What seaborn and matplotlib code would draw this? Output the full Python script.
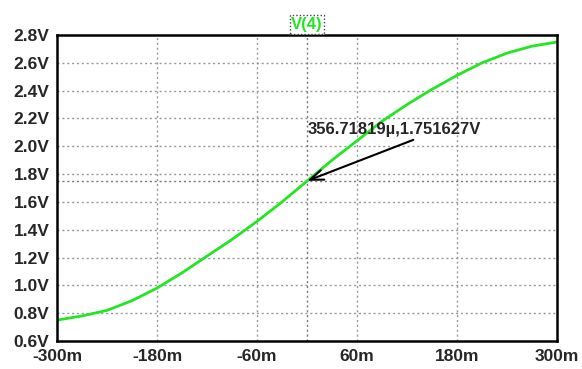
import matplotlib
matplotlib.use("Agg")
import matplotlib.pyplot as plt
import seaborn as sns
import pandas as pd

# sweep values (in milli units) and node voltage V(4)
sweep_m = [-300, -270, -240, -210, -180, -150, -120, -90, -60, -30, 0,
           30, 60, 90, 120, 150, 180, 210, 240, 270, 300]
v4 = [0.75, 0.78, 0.82, 0.89, 0.98, 1.09, 1.21, 1.33, 1.46, 1.60, 1.75,
      1.90, 2.04, 2.18, 2.30, 2.41, 2.51, 2.60, 2.67, 2.72, 2.75]
x_ticks = [-300, -180, -60, 60, 180, 300]
y_ticks = [0.6, 0.8, 1.0, 1.2, 1.4, 1.6, 1.8, 2.0, 2.2, 2.4, 2.6, 2.8]
cursor_x = 0.35671819  # 356.71819u in milli units
cursor_y = 1.751627

df = pd.DataFrame({"sweep": sweep_m, "V(4)": v4})

sns.set_style("white")
plt.rcParams["font.family"] = ["Liberation Sans", "DejaVu Sans"]

fig = plt.figure(figsize=(5.82, 3.69), dpi=100)
ax = fig.add_axes([0.098, 0.076, 0.859, 0.829])

# grid
for xt in x_ticks[1:-1]:
    ax.axvline(xt, color="#999999", lw=1, ls=(0, (1.5, 2)), zorder=0)
for yt in y_ticks[1:-1]:
    ax.axhline(yt, color="#999999", lw=1, ls=(0, (1.5, 2)), zorder=0)
# cursor crosshair
ax.axvline(cursor_x, color="#777777", lw=1, ls=(0, (1.5, 2)), zorder=0)
ax.axhline(cursor_y, color="#777777", lw=1, ls=(0, (1.5, 2)), zorder=0)

sns.lineplot(data=df, x="sweep", y="V(4)", color="#22e622", lw=2, ax=ax)

ax.set_xlim(-300, 300)
ax.set_ylim(0.6, 2.8)
ax.set_xticks(x_ticks)
ax.set_yticks(y_ticks)
ax.set_xticklabels([f"{t}m" for t in x_ticks], fontweight="bold", fontsize=12.5)
ax.set_yticklabels([f"{t:.1f}V" for t in y_ticks], fontweight="bold", fontsize=12.5)
ax.tick_params(axis="both", direction="out", length=5, width=1.5, color="black", pad=0.5)
ax.set_xlabel("")
ax.set_ylabel("")
for s in ax.spines.values():
    s.set_color("black")
    s.set_linewidth(1.8)

ax.annotate(f"{cursor_x * 1000:.5f}\u00b5,{cursor_y}V", xy=(cursor_x, cursor_y),
            xytext=(0.5, 2.07), fontsize=12, fontweight="bold",
            ha="left", va="bottom",
            arrowprops=dict(arrowstyle="->,head_length=0.8,head_width=0.3",
                            color="black", lw=1.5, shrinkA=0, shrinkB=0,
                            relpos=(0.66, 0)))

ax.text(0.5, 1.035, "V(4)", transform=ax.transAxes, ha="center", va="center",
        color="#22e622", fontsize=12, fontweight="bold",
        bbox=dict(boxstyle="square,pad=0.1", fc="white", ec="#444444",
                  ls=(0, (1, 1.5)), lw=1))

fig.savefig("out.png", dpi=100, facecolor="white")
